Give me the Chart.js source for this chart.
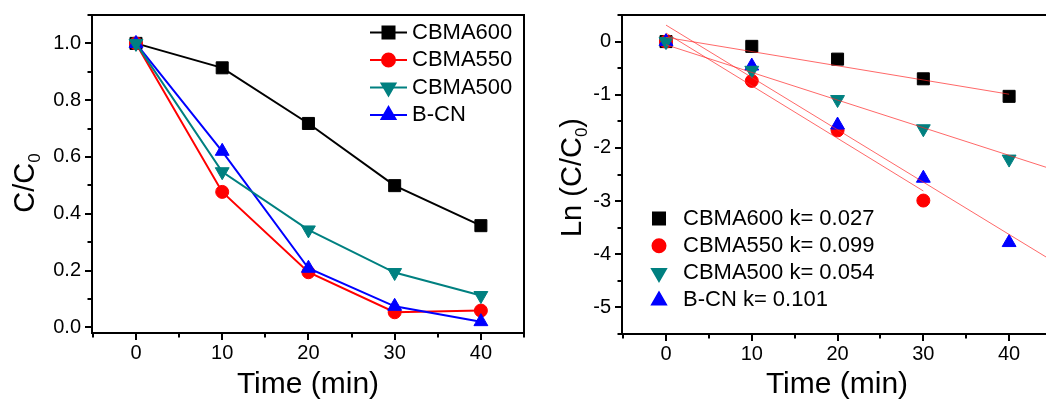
<!DOCTYPE html>
<html>

<head>
    <title>Photocatalytic degradation</title>
    <script src="https://cdn.jsdelivr.net/npm/chart.js"></script>
    <style>
        html, body {
            margin: 0;
            padding: 0;
            background: #fff;
        }

        #wrap {
            position: relative;
            width: 1046px;
            height: 401px;
            overflow: hidden;
        }

        #leftChart {
            position: absolute;
            left: 0;
            top: 0;
        }

        #rightChart {
            position: absolute;
            left: 530px;
            top: 0;
        }
    </style>
</head>

<body>
    <div id="wrap">
        <canvas id="leftChart" width="540" height="401"></canvas>
        <canvas id="rightChart" width="540" height="401"></canvas>
    </div>

    <script>
        // ---- data ----
        const times = [0, 10, 20, 30, 40];
        const seriesNames = ['CBMA600', 'CBMA550', 'CBMA500', 'B-CN'];
        const rateK = ['0.027', '0.099', '0.054', '0.101'];

        // C/C0
        const ratio600 = [1.0, 0.914, 0.718, 0.499, 0.358];
        const ratio550 = [1.0, 0.477, 0.194, 0.053, 0.059];
        const ratio500 = [1.0, 0.548, 0.343, 0.193, 0.112];
        const ratioBCN = [1.0, 0.620, 0.208, 0.074, 0.020];

        // Ln(C/C0)
        const ln600 = [0, -0.09, -0.33, -0.70, -1.03];
        const ln550 = [0, -0.74, -1.67, -2.99];   // no point at 40 min
        const ln500 = [0, -0.54, -1.09, -1.64, -2.21];
        const lnBCN = [0, -0.46, -1.57, -2.57, -3.78];

        // fitted lines, read at both ends
        const fit600X = [0, 40], fit600Y = [0.08, -0.99];
        const fit550X = [0, 30], fit550Y = [0.16, -2.81];
        const fit500X = [0, 45], fit500Y = [-0.06, -2.40];
        const fitBCNX = [0, 45], fitBCNY = [0.31, -4.12];

        // axis ticks
        const xTicks = [0, 10, 20, 30, 40];
        const xMinorTicks = [-5, 5, 15, 25, 35, 45];
        const ratioTicks = [0, 0.2, 0.4, 0.6, 0.8, 1.0];
        const ratioMinorTicks = [0.1, 0.3, 0.5, 0.7, 0.9, 1.1];
        const lnTicks = [-5, -4, -3, -2, -1, 0];
        const lnMinorTicks = [-5.5, -4.5, -3.5, -2.5, -1.5, -0.5, 0.5];

        // ---- styling ----
        const FONT = '"Liberation Sans", Arial, sans-serif';
        const colors = ['#000000', '#ff0000', '#008080', '#0000ff'];
        const markers = [
            { pointStyle: 'rect', radius: 8.5, rotation: 0 },
            { pointStyle: 'circle', radius: 6.5, rotation: 0 },
            { pointStyle: 'triangle', radius: 8, rotation: 180 },
            { pointStyle: 'triangle', radius: 8, rotation: 0 }
        ];
        const drawOrder = [3, 2, 0, 1]; // lowest is drawn on top

        function pts(xs, ys) {
            return ys.map((v, i) => ({ x: xs[i], y: v }));
        }

        function fallbackMarker(ctx, m, x, y) {
            ctx.beginPath();
            if (m.pointStyle === 'rect') {
                const s = m.radius * Math.SQRT1_2;
                ctx.rect(x - s, y - s, 2 * s, 2 * s);
            } else if (m.pointStyle === 'circle') {
                ctx.arc(x, y, m.radius, 0, Math.PI * 2);
            } else {
                let rad = m.rotation * Math.PI / 180;
                for (let k = 0; k < 3; k++) {
                    const px = x + Math.sin(rad) * m.radius;
                    const py = y - Math.cos(rad) * m.radius;
                    k === 0 ? ctx.moveTo(px, py) : ctx.lineTo(px, py);
                    rad += Math.PI * 2 / 3;
                }
                ctx.closePath();
            }
            ctx.fill();
        }

        // frame, outward ticks, rotated y title with subscript, legend
        const deco = {
            id: 'deco',
            afterDraw(chart, args, opts) {
                const { ctx, chartArea: a, scales: { x, y } } = chart;
                ctx.save();
                ctx.strokeStyle = '#000';
                ctx.lineWidth = 2;
                ctx.lineCap = 'butt';

                const xTick = (v, len) => {
                    const px = Math.round(x.getPixelForValue(v));
                    ctx.beginPath();
                    ctx.moveTo(px, a.bottom);
                    ctx.lineTo(px, a.bottom + len);
                    ctx.stroke();
                };
                const yTick = (v, len) => {
                    const py = Math.round(y.getPixelForValue(v));
                    ctx.beginPath();
                    ctx.moveTo(a.left, py);
                    ctx.lineTo(a.left - len, py);
                    ctx.stroke();
                };
                xTicks.forEach(v => xTick(v, 7));
                xMinorTicks.filter(v => v >= x.min && v <= x.max).forEach(v => xTick(v, 4.5));
                opts.majorY.forEach(v => yTick(v, 7));
                opts.minorY.filter(v => v >= y.min && v <= y.max).forEach(v => yTick(v, 4.5));

                ctx.strokeRect(a.left, a.top, a.right - a.left, a.bottom - a.top);

                // y title
                const t = opts.yTitle;
                const big = t.size + 'px ' + FONT;
                const small = Math.round(t.size * 0.6) + 'px ' + FONT;
                ctx.font = big;
                const w1 = ctx.measureText(t.main).width;
                const w3 = ctx.measureText(t.tail).width;
                ctx.font = small;
                const w2 = ctx.measureText(t.sub).width;
                const total = w1 + w2 + w3;
                ctx.translate(t.x + t.size * 0.358, t.y);
                ctx.rotate(-Math.PI / 2);
                ctx.fillStyle = '#000';
                ctx.textBaseline = 'alphabetic';
                ctx.textAlign = 'left';
                let sx = -total / 2;
                ctx.font = big;
                ctx.fillText(t.main, sx, 0);
                ctx.font = small;
                ctx.fillText(t.sub, sx + w1, t.size * 0.2);
                ctx.font = big;
                ctx.fillText(t.tail, sx + w1 + w2, 0);
                ctx.setTransform(1, 0, 0, 1, 0, 0);

                // legend
                const L = opts.legend;
                ctx.font = L.size + 'px ' + FONT;
                ctx.textBaseline = 'middle';
                let row = 0;
                chart.data.datasets.forEach(ds => {
                    if (ds.isFit) return;
                    const ly = L.y0 + row * L.dy;
                    if (L.lineLen) {
                        ctx.strokeStyle = ds.borderColor;
                        ctx.lineWidth = 2;
                        ctx.beginPath();
                        ctx.moveTo(L.x - L.lineLen / 2, ly);
                        ctx.lineTo(L.x + L.lineLen / 2, ly);
                        ctx.stroke();
                    }
                    ctx.fillStyle = ds.backgroundColor;
                    ctx.strokeStyle = ds.borderColor;
                    const m = { pointStyle: ds.pointStyle, radius: ds.pointRadius, rotation: ds.pointRotation, borderWidth: 1 };
                    if (Chart.helpers && Chart.helpers.drawPoint) {
                        Chart.helpers.drawPoint(ctx, m, L.x, ly);
                    } else {
                        fallbackMarker(ctx, m, L.x, ly);
                    }
                    ctx.fillStyle = '#000';
                    ctx.fillText(ds.label, L.textX, ly);
                    row++;
                });
                ctx.restore();
            }
        };

        function scalesFor(xMin, xMax, yMin, yMax, yTicks, yFmt, xHeight, yPad) {
            return {
                x: {
                    type: 'linear', min: xMin, max: xMax,
                    afterFit: s => {
                        s.height = xHeight;
                        s.paddingLeft = 0;
                        s.paddingRight = 0;
                    },
                    afterBuildTicks: s => { s.ticks = xTicks.map(v => ({ value: v })); },
                    grid: { display: false, drawTicks: false },
                    border: { display: false },
                    ticks: {
                        padding: 8, color: '#000', autoSkip: false, maxRotation: 0,
                        font: { family: FONT, size: 20 },
                        callback: v => String(v)
                    },
                    title: {
                        display: true, text: 'Time (min)', color: '#000',
                        font: { family: FONT, size: 30, lineHeight: 1 },
                        padding: { top: 0, bottom: 1 }
                    }
                },
                y: {
                    type: 'linear', min: yMin, max: yMax,
                    afterFit: s => {
                        s.width = 92;
                        s.paddingTop = 0;
                        s.paddingBottom = 0;
                    },
                    afterBuildTicks: s => { s.ticks = yTicks.map(v => ({ value: v })); },
                    grid: { display: false, drawTicks: false },
                    border: { display: false },
                    ticks: {
                        padding: yPad, color: '#000', autoSkip: false,
                        font: { family: FONT, size: 20 },
                        callback: yFmt
                    }
                }
            };
        }

        // ---- left: C/C0 vs time ----
        const ratioSeries = [ratio600, ratio550, ratio500, ratioBCN];
        const leftSets = ratioSeries.map((vals, i) => ({
            label: seriesNames[i],
            data: pts(times, vals),
            borderColor: colors[i],
            backgroundColor: colors[i],
            borderWidth: 2,
            pointStyle: markers[i].pointStyle,
            pointRadius: markers[i].radius,
            pointRotation: markers[i].rotation,
            pointBorderWidth: 1,
            tension: 0,
            order: drawOrder[i]
        }));

        new Chart(document.getElementById('leftChart'), {
            type: 'line',
            data: { datasets: leftSets },
            options: {
                responsive: false,
                animation: false,
                devicePixelRatio: 1,
                layout: { padding: { left: 0, top: 15, right: 16, bottom: 0 } },
                plugins: {
                    legend: { display: false },
                    tooltip: { enabled: false },
                    deco: {
                        majorY: ratioTicks,
                        minorY: ratioMinorTicks,
                        yTitle: { main: 'C/C', sub: '0', tail: '', size: 29, x: 24, y: 183 },
                        legend: { x: 388.5, textX: 412, y0: 32.5, dy: 27.5, lineLen: 37, size: 22 }
                    }
                },
                scales: scalesFor(-5.1, 45, -0.02, 1.1, ratioTicks, v => v.toFixed(1), 68, 11)
            },
            plugins: [deco]
        });

        // ---- right: Ln(C/C0) vs time with linear fits ----
        const lnSeries = [ln600, ln550, ln500, lnBCN];
        const rightSets = lnSeries.map((vals, i) => ({
            label: seriesNames[i] + ' k= ' + rateK[i],
            data: pts(times, vals),
            showLine: false,
            borderColor: colors[i],
            backgroundColor: colors[i],
            pointStyle: markers[i].pointStyle,
            pointRadius: markers[i].radius,
            pointRotation: markers[i].rotation,
            pointBorderWidth: 1,
            order: drawOrder[i]
        }));
        const fits = [[fit600X, fit600Y], [fit550X, fit550Y], [fit500X, fit500Y], [fitBCNX, fitBCNY]];
        fits.forEach(([fx, fy]) => {
            rightSets.push({
                isFit: true,
                data: pts(fx, fy),
                borderColor: 'rgba(255, 40, 40, 0.7)',
                borderWidth: 1,
                pointRadius: 0,
                tension: 0,
                order: -1
            });
        });

        new Chart(document.getElementById('rightChart'), {
            type: 'line',
            data: { datasets: rightSets },
            options: {
                responsive: false,
                animation: false,
                devicePixelRatio: 1,
                layout: { padding: { left: 0, top: 15, right: 18, bottom: 0 } },
                plugins: {
                    legend: { display: false },
                    tooltip: { enabled: false },
                    deco: {
                        majorY: lnTicks,
                        minorY: lnMinorTicks,
                        yTitle: { main: 'Ln (C/C', sub: '0', tail: ')', size: 29, x: 41, y: 177.5 },
                        legend: { x: 129, textX: 153, y0: 218.5, dy: 27.3, lineLen: 0, size: 22 }
                    }
                },
                scales: scalesFor(-5.13, 45, -5.5, 0.5, lnTicks, v => String(v), 67, 11)
            },
            plugins: [deco]
        });
    </script>
</body>

</html>
